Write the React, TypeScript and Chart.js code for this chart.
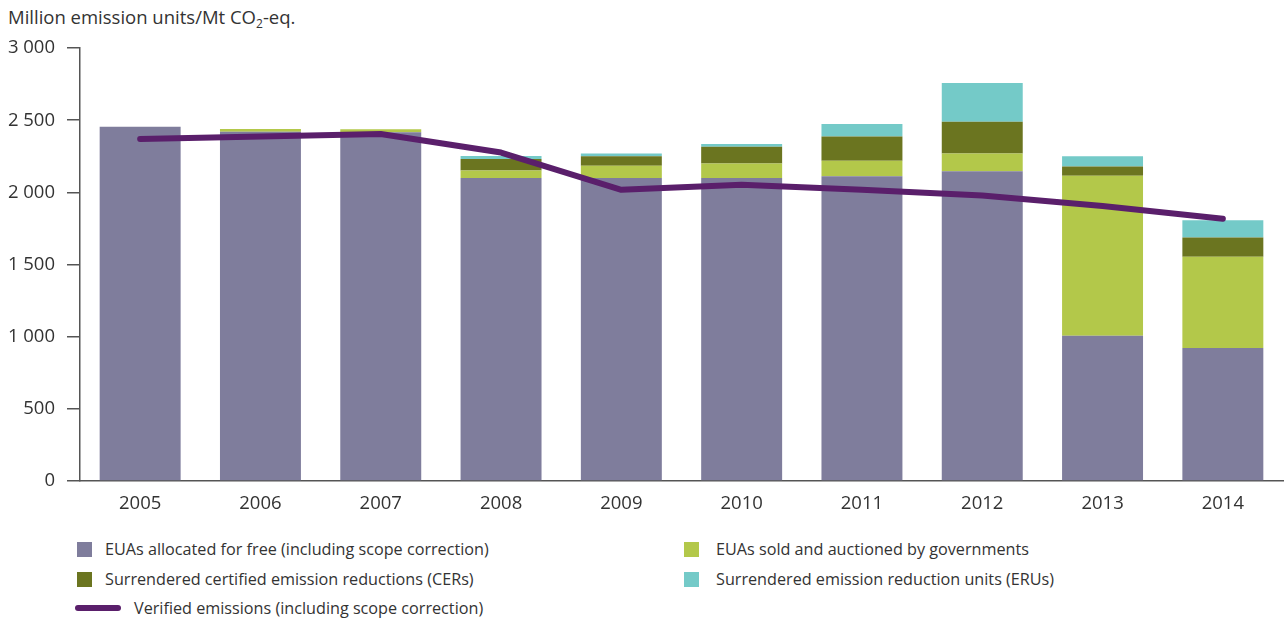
import React, { useEffect, useRef } from "react";
import { Chart, registerables } from "chart.js";

Chart.register(...registerables);

const years = ["2005", "2006", "2007", "2008", "2009", "2010", "2011", "2012", "2013", "2014"];
const euasFree = [2455, 2421, 2417, 2099, 2099, 2099, 2112, 2147, 1007, 922];
const euasSold = [0, 18, 20, 53, 85, 101, 107, 122, 1108, 632];
const cers = [0, 0, 0, 80, 66, 117, 169, 221, 64, 134];
const erus = [0, 0, 0, 21, 19, 19, 86, 269, 71, 119];
const verified = [2370, 2388, 2405, 2276, 2018, 2053, 2018, 1978, 1905, 1818];
const yTicks = [0, 500, 1000, 1500, 2000, 2500, 3000];

const labelFree = "EUAs allocated for free (including scope correction)";
const labelSold = "EUAs sold and auctioned by governments";
const labelCers = "Surrendered certified emission reductions (CERs)";
const labelErus = "Surrendered emission reduction units (ERUs)";
const labelVerified = "Verified emissions (including scope correction)";

const C_FREE = "#7f7d9c";
const C_SOLD = "#b3c84a";
const C_CERS = "#6b7520";
const C_ERUS = "#74cac8";
const C_LINE = "#5a1f6b";
const TEXT = "#333333";
const FONT = "'Open Sans', sans-serif";

function fmt(v: number): string {
  return String(v).replace(/\B(?=(\d{3})+(?!\d))/g, " ");
}

export default function App() {
  const ref = useRef<HTMLCanvasElement | null>(null);

  useEffect(() => {
    if (!ref.current) return;
    const bar = (label: string, data: number[], color: string) => ({
      type: "bar" as const,
      label,
      data,
      backgroundColor: color,
      borderWidth: 0,
      stack: "bars",
      order: 1,
      categoryPercentage: 1,
      barPercentage: 0.673,
    });
    const chart = new Chart(ref.current, {
      type: "bar",
      data: {
        labels: years,
        datasets: [
          {
            type: "line",
            label: labelVerified,
            data: verified,
            borderColor: C_LINE,
            backgroundColor: C_LINE,
            borderWidth: 6,
            pointRadius: 0,
            tension: 0,
            borderCapStyle: "round",
            borderJoinStyle: "round",
            stack: "line",
            order: 0,
          } as any,
          bar(labelFree, euasFree, C_FREE),
          bar(labelSold, euasSold, C_SOLD),
          bar(labelCers, cers, C_CERS),
          bar(labelErus, erus, C_ERUS),
        ],
      },
      options: {
        animation: false,
        responsive: false,
        devicePixelRatio: 1,
        layout: { padding: { top: 16, right: 4, left: 0, bottom: 0 } },
        plugins: { legend: { display: false }, tooltip: { enabled: false }, title: { display: false } },
        scales: {
          x: {
            stacked: true,
            grid: { display: false, drawTicks: false },
            border: { display: true, color: "#555", width: 1.5 },
            ticks: { color: TEXT, font: { family: FONT, size: 18.5 }, padding: 12 },
            afterFit: (s: any) => {
              s.height = 50;
            },
          },
          y: {
            stacked: true,
            min: 0,
            max: 3000,
            afterBuildTicks: (s: any) => {
              s.ticks = yTicks.map((v) => ({ value: v }));
            },
            grid: { drawOnChartArea: false, drawTicks: true, tickLength: 13, color: "#555", lineWidth: 1.5 },
            border: { display: true, color: "#555", width: 1.5 },
            ticks: {
              color: TEXT,
              font: { family: FONT, size: 18.5 },
              padding: 12,
              callback: (v: any) => fmt(Number(v)),
            },
            afterFit: (s: any) => {
              s.width = 80;
            },
          },
        },
      },
    });
    return () => chart.destroy();
  }, []);

  const legendText: React.CSSProperties = {
    position: "absolute",
    fontFamily: FONT,
    fontSize: 16.2,
    lineHeight: "20px",
    color: TEXT,
    whiteSpace: "nowrap",
  };
  const box = (left: number, top: number, color: string) => (
    <div style={{ position: "absolute", left, top, width: 15, height: 15, background: color }} />
  );

  return (
    <div>
      <div
        style={{
          position: "absolute",
          left: 8,
          top: 5,
          fontFamily: FONT,
          fontSize: 18.5,
          lineHeight: "24px",
          color: TEXT,
          whiteSpace: "nowrap",
        }}
      >
        Million emission units/Mt CO<sub style={{ fontSize: 12, verticalAlign: "-4px", lineHeight: 0 }}>2</sub>-eq.
      </div>
      <canvas
        ref={ref}
        width={1287}
        height={506}
        style={{ position: "absolute", left: 0, top: 25, width: 1287, height: 506 }}
      />
      {box(77, 542, C_FREE)}
      <div style={{ ...legendText, left: 105, top: 539 }}>{labelFree}</div>
      {box(684, 542, C_SOLD)}
      <div style={{ ...legendText, left: 716, top: 539 }}>{labelSold}</div>
      {box(77, 572, C_CERS)}
      <div style={{ ...legendText, left: 105, top: 569 }}>{labelCers}</div>
      {box(684, 572, C_ERUS)}
      <div style={{ ...legendText, left: 716, top: 569 }}>{labelErus}</div>
      <div
        style={{ position: "absolute", left: 75, top: 605, width: 46, height: 6, borderRadius: 3, background: C_LINE }}
      />
      <div style={{ ...legendText, left: 134, top: 598 }}>{labelVerified}</div>
    </div>
  );
}
